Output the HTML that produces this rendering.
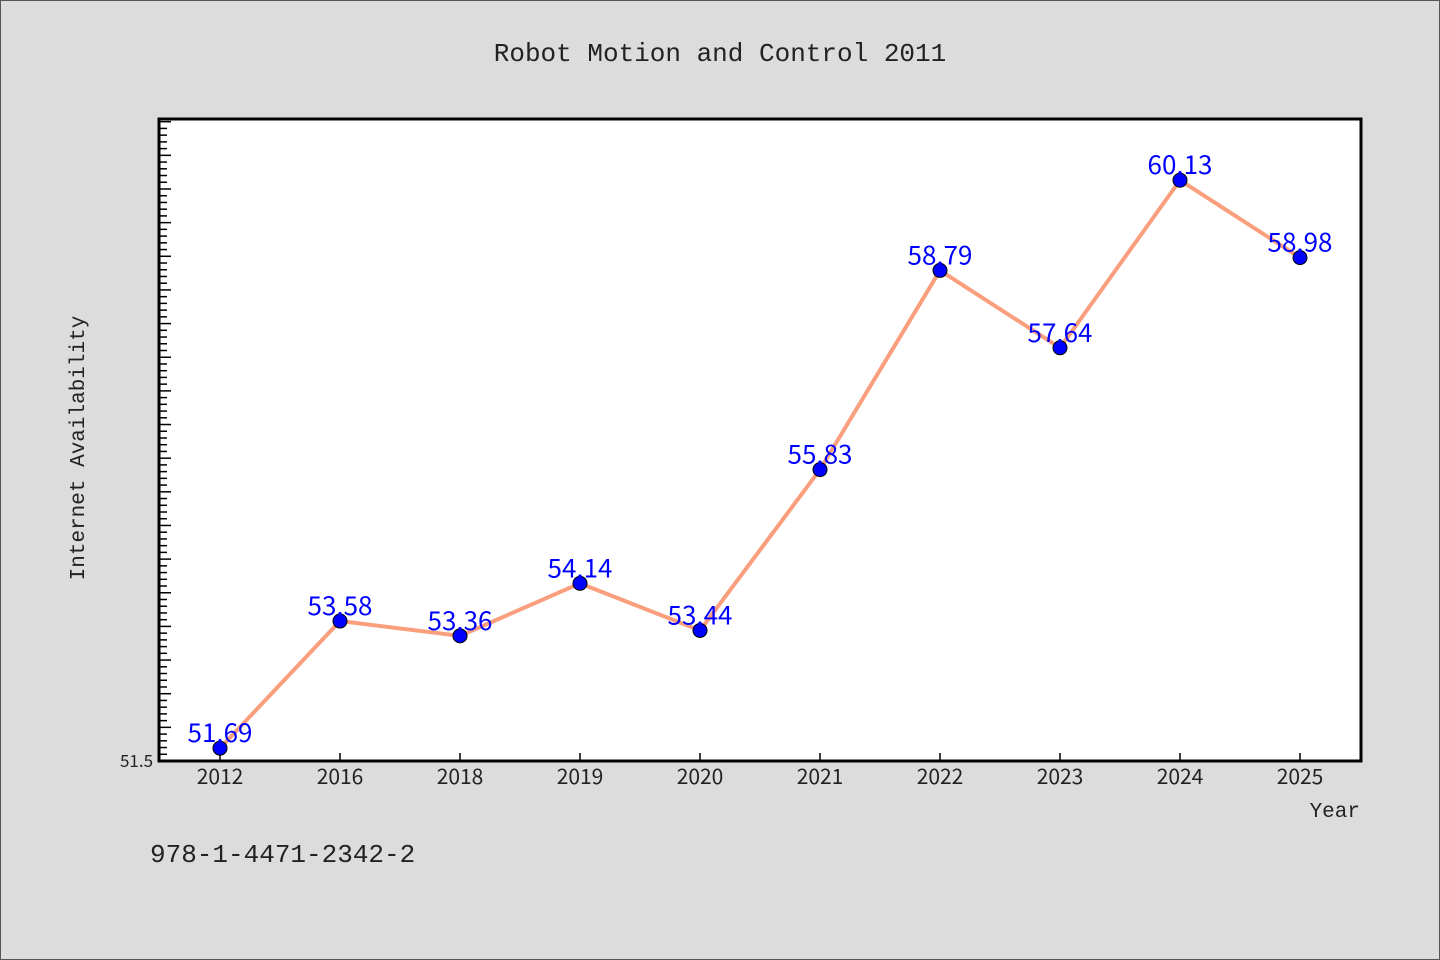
<!DOCTYPE html>
<html><head><meta charset="utf-8"><style>
html,body{margin:0;padding:0;background:#dcdcdc;}
svg{display:block;font-family:"WenQuanYi Zen Hei","Noto Sans CJK SC",sans-serif;}
.mono{font-family:"Liberation Mono","DejaVu Sans Mono",monospace;}
</style></head><body>
<svg id="chart" width="1440" height="960">
<rect x="0.5" y="0.5" width="1439" height="959" fill="#dcdcdc" stroke="#555"/>
<text class="mono" x="720" y="61" text-anchor="middle" font-size="26" fill="#222">Robot Motion and Control 2011</text>
<rect x="159" y="119" width="1202" height="642" fill="#fff"/>
<g id="ticks"></g>
<g id="series"></g>
<rect x="159" y="119" width="1202" height="642" fill="none" stroke="#000" stroke-width="3"/>
<text class="mono" x="84" y="448" text-anchor="middle" font-size="21" fill="#222" transform="rotate(-90 84 448)">Internet Availability</text>
<text class="mono" x="1360" y="817" text-anchor="end" font-size="21" fill="#222">Year</text>
<text class="mono" x="150" y="862" font-size="26" fill="#222">978-1-4471-2342-2</text>
</svg>
<script>
const categories=["2012","2016","2018","2019","2020","2021","2022","2023","2024","2025"];
const values=[51.69,53.58,53.36,54.14,53.44,55.83,58.79,57.64,60.13,58.98];
const yTickLabels=["51.5"];
const NS="http://www.w3.org/2000/svg";
const plotLeft=159,plotBottom=761,plotTop=119,yMin=51.5,yMax=61.04;
function xScale(i){return 220+120*i;}
function yScale(v){return plotBottom-(v-yMin)/(yMax-yMin)*(plotBottom-plotTop);}
function mk(tag,attrs,parent){const e=document.createElementNS(NS,tag);for(const k in attrs)e.setAttribute(k,attrs[k]);parent.appendChild(e);return e;}
const tg=document.getElementById('ticks');
for(let k=0;k<200;k++){
  const v=yMin+k*0.1; if(v>yMax+1e-9)break;
  const y=yScale(v); const major=k%5===0;
  const t=mk('line',{x1:plotLeft,x2:plotLeft+(major?12:8),y1:y,y2:y,stroke:'#000','stroke-width':1.5},tg);
  
  
}
yTickLabels.forEach(l=>{
  const t=mk('text',{x:153,y:yScale(parseFloat(l))+6,'text-anchor':'end','font-size':17,fill:'#222'},tg);
  t.textContent=l;
  
  
});
categories.forEach((c,i)=>{
  const x=xScale(i);
  const t=mk('line',{x1:x,x2:x,y1:plotBottom,y2:plotBottom-8,stroke:'#000','stroke-width':1.5},tg);
  
  
  const l=mk('text',{x:x,y:784,'text-anchor':'middle','font-size':21,fill:'#222'},tg);
  l.textContent=c;
  
  
});
const sg=document.getElementById('series');
const pts=values.map((v,i)=>xScale(i)+','+yScale(v)).join(' ');
const line=mk('polyline',{points:pts,fill:'none',stroke:'#fa9f7d','stroke-width':4,'stroke-linejoin':'round'},sg);


values.forEach((v,i)=>{
  const c=mk('circle',{cx:xScale(i),cy:yScale(v),r:7,fill:'#0000ff',stroke:'#000','stroke-width':1},sg);
  
  
});
values.forEach((v,i)=>{
  const t=mk('text',{x:xScale(i),y:yScale(v)-6,'text-anchor':'middle','font-size':26,fill:'#0000ff'},sg);
  t.textContent=v.toFixed(2);
  
  
});
</script>
</body></html>
